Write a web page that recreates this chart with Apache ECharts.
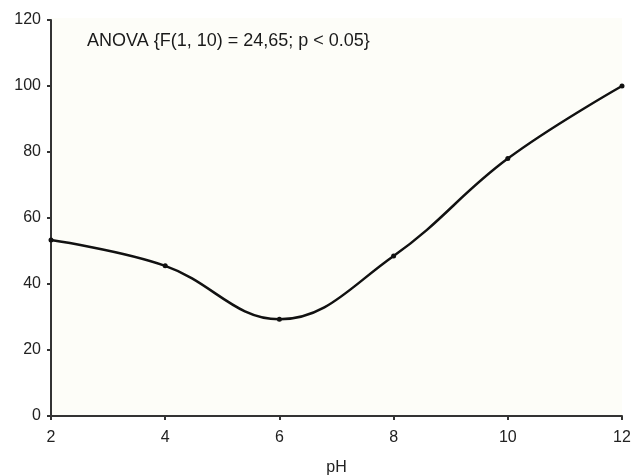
<!DOCTYPE html>
<html><head><meta charset="utf-8">
<script src="https://cdn.jsdelivr.net/npm/echarts@6/dist/echarts.min.js"></script>
<style>html,body{margin:0;padding:0;background:#fff;}#c{width:632px;height:476px;}</style>
</head><body><div id="c"></div>
<script>
var phValues = [2, 4, 6, 8, 10, 12];
var yValues = [53.3, 45.5, 29.3, 48.5, 78, 100];
var xTicks = [2, 4, 6, 8, 10, 12];
var yTicks = [0, 20, 40, 60, 80, 100, 120];
var annotation = 'ANOVA {F(1, 10) = 24,65; p < 0.05}';
var xName = 'pH';

var chart = echarts.init(document.getElementById('c'));
chart.setOption({
  backgroundColor: '#ffffff',
  animation: false,
  textStyle: { fontFamily: 'Liberation Sans, Arial, sans-serif' },
  graphic: [{
    type: 'rect', left: 51, top: 18, shape: { width: 571, height: 398 },
    style: { fill: '#fdfdf8' }, z: -10, silent: true
  }, {
    type: 'text', left: 87, top: 32,
    style: { text: annotation, fontSize: 18, fill: '#1a1a1a', fontFamily: 'Liberation Sans, Arial, sans-serif' }
  }],
  grid: { left: 51, right: 10, top: 20, bottom: 60, containLabel: false, outerBoundsMode: 'none' },
  xAxis: {
    type: 'value', min: 2, max: 12, interval: 2,
    name: xName, nameLocation: 'middle', nameGap: 44,
    nameTextStyle: { fontSize: 16, color: '#222' },
    axisLine: { lineStyle: { color: '#333', width: 2 } },
    axisTick: { show: true, length: 4, lineStyle: { color: '#333', width: 2 } },
    axisLabel: { fontSize: 16, color: '#222', margin: 14 },
    splitLine: { show: false }
  },
  yAxis: {
    type: 'value', min: 0, max: 120, interval: 20,
    axisLine: { show: true, lineStyle: { color: '#333', width: 2 } },
    axisTick: { show: true, length: 4, lineStyle: { color: '#333', width: 2 } },
    axisLabel: { fontSize: 16, color: '#222', margin: 10 },
    splitLine: { show: false }
  },
  series: [{
    type: 'line',
    data: phValues.map(function (x, i) { return [x, yValues[i]]; }),
    smooth: 0.4,
    symbol: 'circle', symbolSize: 5,
    lineStyle: { color: '#111', width: 2.5 },
    itemStyle: { color: '#111' }
  }]
});
</script></body></html>
